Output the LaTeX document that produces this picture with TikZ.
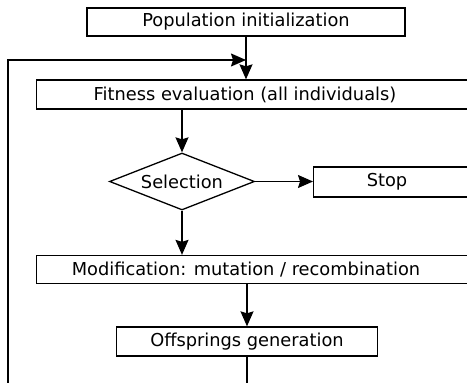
\documentclass[tikz,border=0pt]{standalone}
\usepackage{fontspec}
\setmainfont{DejaVu Sans}
\usetikzlibrary{shapes,arrows.meta,calc}
\tikzset{
    stage/.style={draw,rectangle,inner sep=0pt,line width=1.3pt},
    decision/.style={draw,diamond,shape aspect=2.54,minimum width=145pt,minimum height=57pt,inner sep=0pt,line width=1.3pt,font=\fontsize{17.8}{20}\selectfont},
    caption/.style={inner sep=0pt,font=\fontsize{17.8}{20}\selectfont},
}

\begin{document}
\begin{tikzpicture}[->,>={Stealth[length=15pt,width=13pt,inset=2pt]},x=1pt,y=-1pt,line width=1.3pt]
    \useasboundingbox (0,0) rectangle (467,383);
    \clip (0,0) rectangle (467,383);

    \node[stage,caption,minimum width=318pt,minimum height=28pt] (pop) at (246,22) {Population initialization};
    \node[stage,minimum width=480pt,minimum height=29pt,anchor=west] (fit) at (36,94.5) {};
    \node[caption] (fittxt) at (245,94.5) {Fitness evaluation (all individuals)};
    \node[decision] (sel) at (182,181.5) {Selection};
    \node[stage,minimum width=200pt,minimum height=30pt,anchor=west] (stop) at (313,182) {};
    \node[caption] (stoptxt) at (387,182) {Stop};
    \node[stage,minimum width=480pt,minimum height=28pt,anchor=west] (mod) at (36,269.5) {};
    \node[caption] (modtxt) at (246,269.5) {Modification: mutation / recombination};
    \node[stage,caption,minimum width=261pt,minimum height=29pt] (off) at (247,341.5) {Offsprings generation};

    \coordinate (offend) at (247,400);
    \coordinate (loopbot) at (8,400);
    \coordinate (loopin) at (8,60);

    \draw (pop.south) -- (pop.south |- fit.north);
    \draw (fit.south -| sel.north) -- (sel.north);
    \draw (sel.east) -- (stop.west |- sel.east);
    \draw (sel.south) -- (sel.south |- mod.north);
    \draw (mod.south -| off.north) -- (off.north);
    \draw[-] (off.south) -- (offend);
    \draw (loopbot) -- (loopin) -- (loopin -| pop.south);
\end{tikzpicture}
\end{document}
